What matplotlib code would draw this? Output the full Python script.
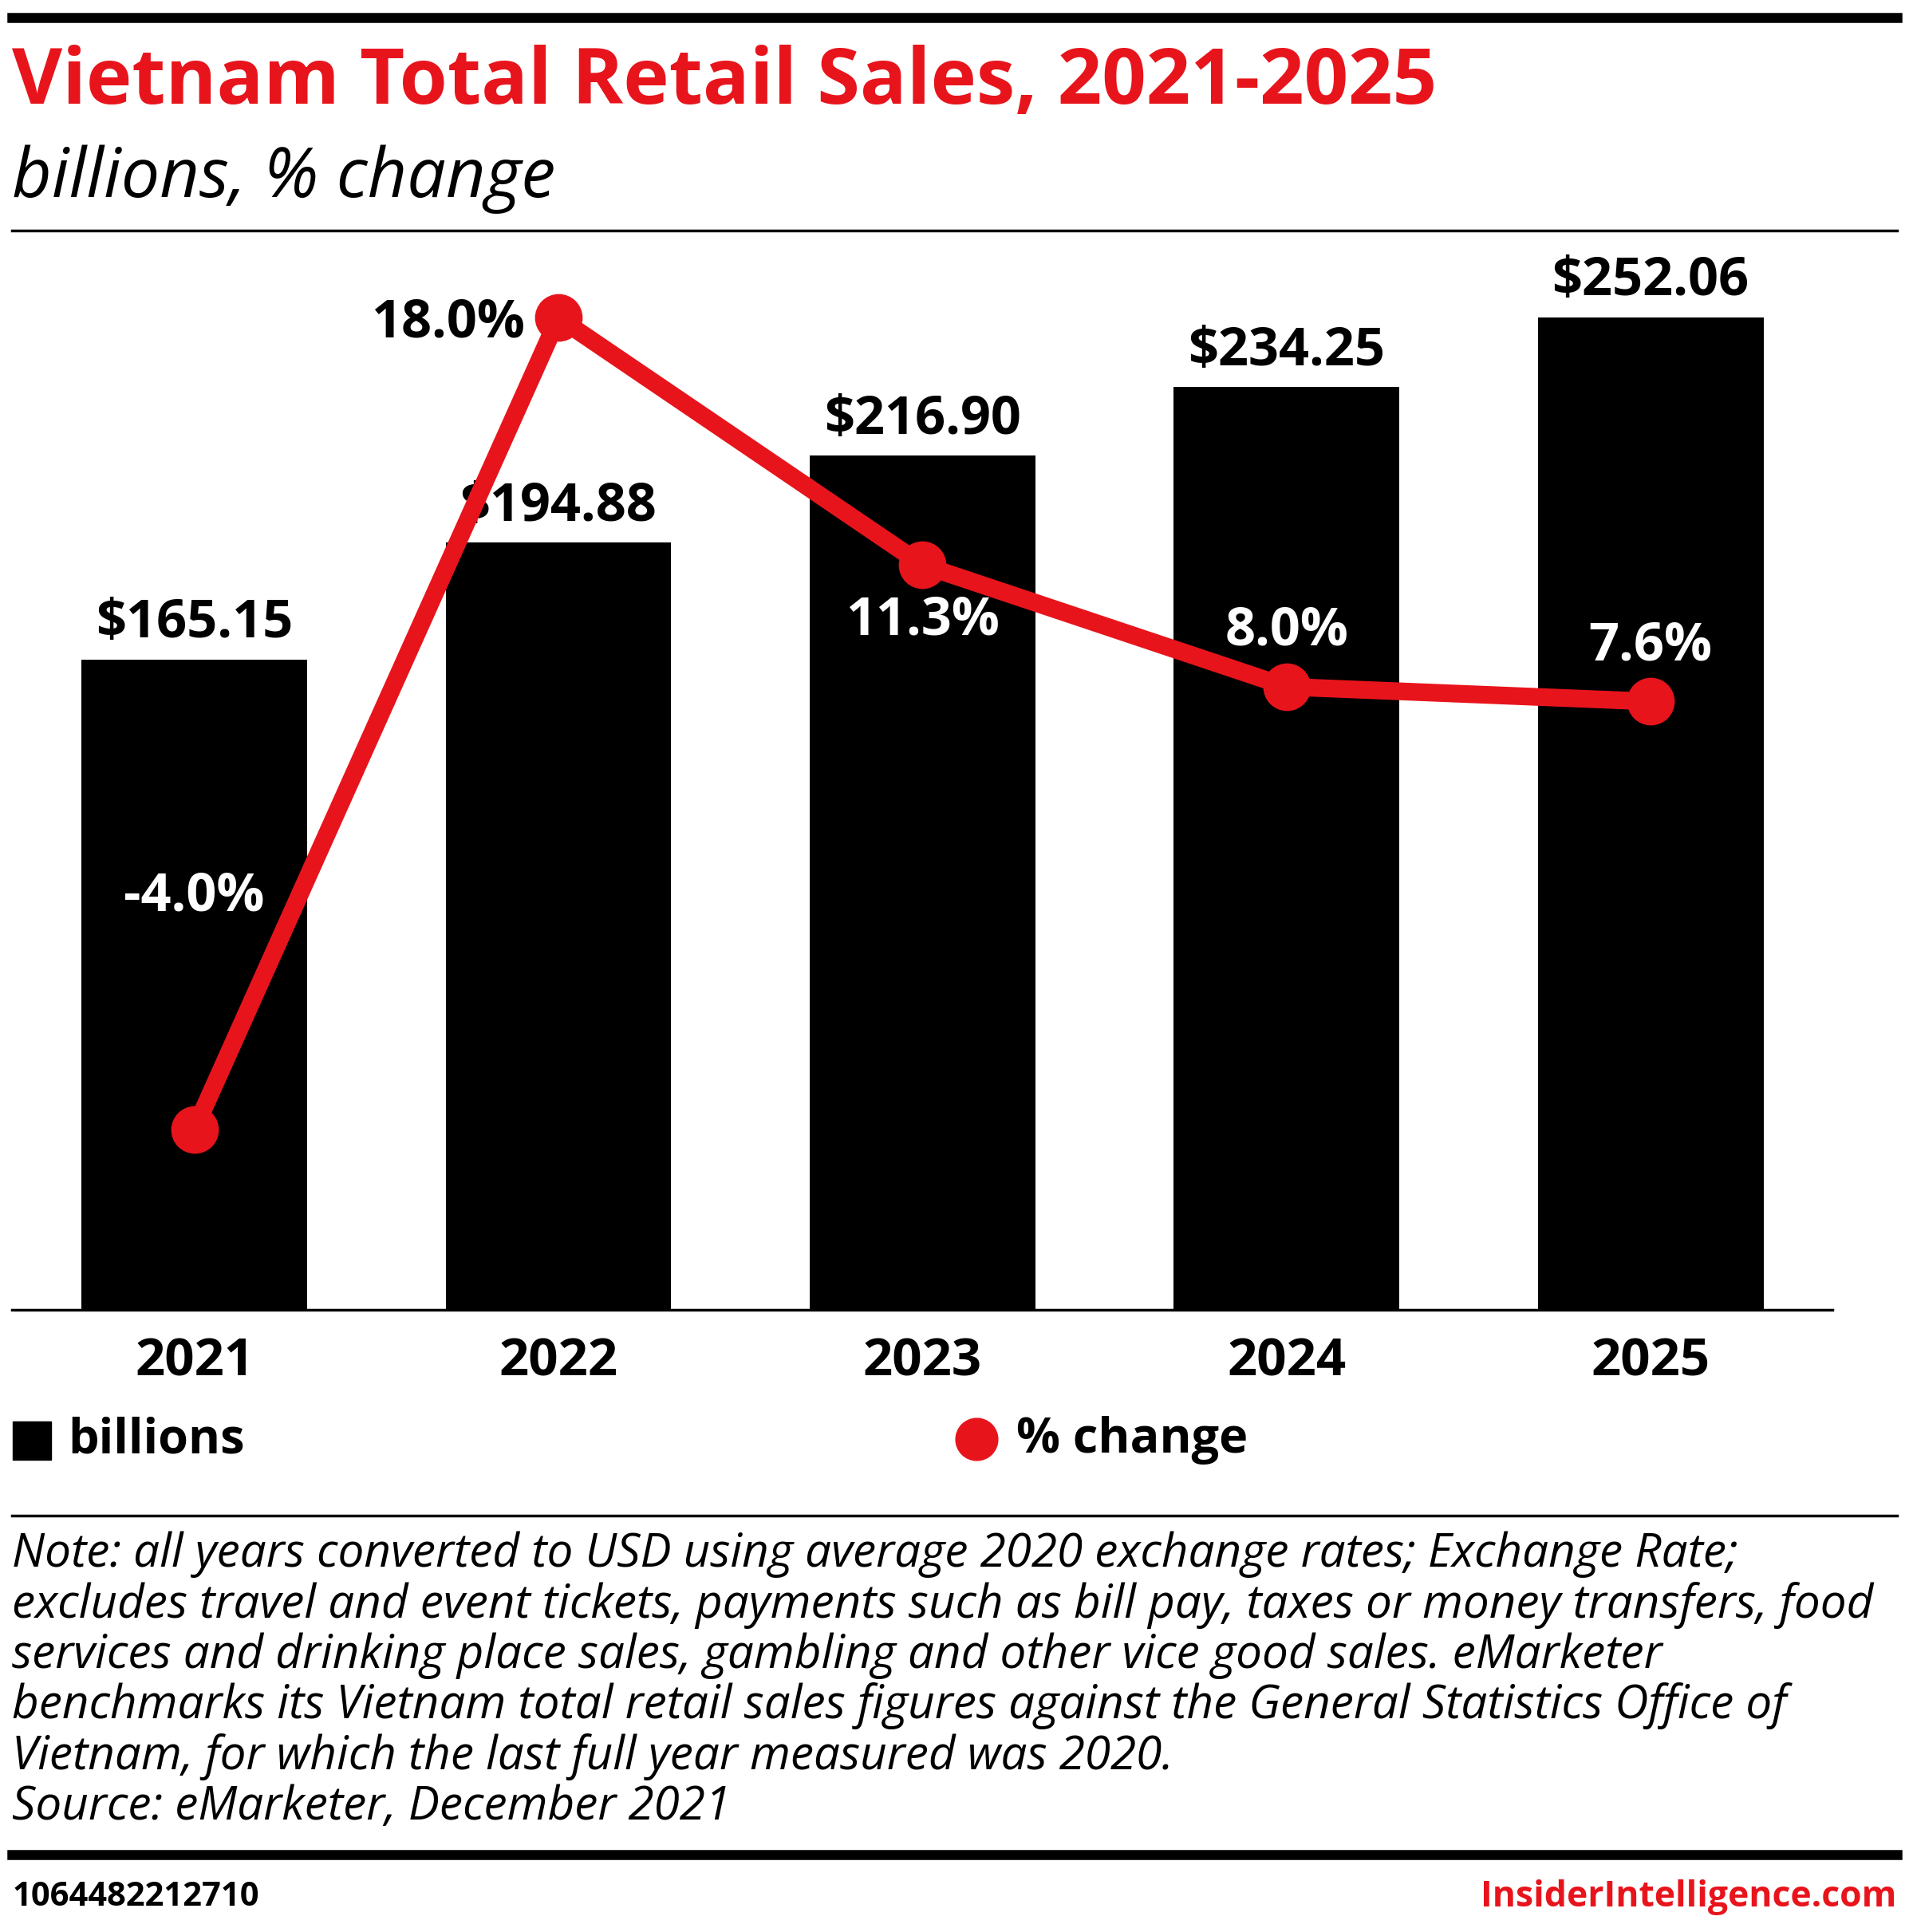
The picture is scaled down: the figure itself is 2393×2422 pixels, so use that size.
import numpy as np
import matplotlib.pyplot as plt

years = ["2021", "2022", "2023", "2024", "2025"]
sales = [165.15, 194.88, 216.90, 234.25, 252.06]
pct = [-4.0, 18.0, 11.3, 8.0, 7.6]
sales_labels = ["$165.15", "$194.88", "$216.90", "$234.25", "$252.06"]
pct_labels = ["-4.0%", "18.0%", "11.3%", "8.0%", "7.6%"]
# offsets (points) and colours for the % labels
pct_off = [(0, 210), (-100, -5), (0, -50), (0, 50), (0, 50)]
pct_col = ["white", "black", "white", "white", "white"]

RED = "#e8141c"
W, H = 1550, 1568
plt.rcParams['font.family'] = ['Open Sans', 'DejaVu Sans']

fig = plt.figure(figsize=(23.93, 24.22), dpi=100)

def fy(y):
    return 1 - y / H

def fx(x):
    return x / W

# header / footer rules
for y, lw in [(14, 9), (187, 2.5), (1230, 2.5), (1505, 9)]:
    fig.add_artist(plt.Line2D([fx(10), fx(1540)], [fy(y), fy(y)], color="black", lw=lw))

fig.text(fx(10), fy(84), "Vietnam Total Retail Sales, 2021-2025", color=RED,
         fontsize=70, fontweight="bold")
fig.text(fx(10), fy(160), "billions, % change", fontsize=62, style="italic")

ax = fig.add_axes([fx(10), fy(1063), fx(1488) - fx(10), fy(200) - fy(1063)])
x = np.arange(len(years))
ax.bar(x, sales, width=0.62, color="black")
ax.set_xlim(-0.5, 4.5)
ax.set_ylim(0, 270)
for s in ["top", "right", "left"]:
    ax.spines[s].set_visible(False)
ax.spines["bottom"].set_linewidth(2.5)
ax.set_yticks([])
ax.set_xticks(x)
ax.set_xticklabels(years, fontsize=47, fontweight="bold")
ax.tick_params(axis="x", length=0, pad=24)
for i, v in enumerate(sales):
    ax.annotate(sales_labels[i], (i, v), xytext=(0, 8), textcoords="offset points",
                ha="center", va="bottom", fontsize=48, fontweight="bold")

ax2 = ax.twinx()
ax2.set_ylim(-8.88, 19.93)
ax2.axis("off")
ax2.plot(x, pct, color=RED, lw=16, marker="o", ms=42, solid_capstyle="round")
for i, v in enumerate(pct):
    dx, dy = pct_off[i]
    ax2.annotate(pct_labels[i], (i, v), xytext=(dx, dy), textcoords="offset points",
                 ha="center", va="center", fontsize=48, fontweight="bold", color=pct_col[i])

# legend
fig.add_artist(plt.Line2D([fx(26)], [fy(1169)], marker="s", ms=35, color="black", lw=0))
fig.text(fx(55), fy(1169), "billions", fontsize=44, fontweight="bold", va="center")
fig.add_artist(plt.Line2D([fx(793)], [fy(1168)], marker="o", ms=38, color=RED, lw=0))
fig.text(fx(825), fy(1169), "% change", fontsize=44, fontweight="bold", va="center")

note = ("Note: all years converted to USD using average 2020 exchange rates; Exchange Rate;\n"
        "excludes travel and event tickets, payments such as bill pay, taxes or money transfers, food\n"
        "services and drinking place sales, gambling and other vice good sales. eMarketer\n"
        "benchmarks its Vietnam total retail sales figures against the General Statistics Office of\n"
        "Vietnam, for which the last full year measured was 2020.\n"
        "Source: eMarketer, December 2021")
fig.text(fx(10), fy(1243), note, fontsize=42, style="italic", va="top", linespacing=1.1)

fig.text(fx(10), fy(1540), "1064482212710", fontsize=30, fontweight="bold", va="center")
fig.text(fx(1540), fy(1540), "InsiderIntelligence.com", fontsize=32, fontweight="bold",
         color=RED, va="center", ha="right")

fig.savefig("out.png", dpi=100)
